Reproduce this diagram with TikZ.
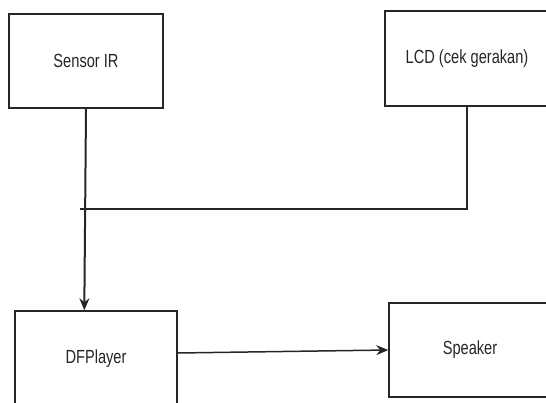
\documentclass[tikz,border=0pt]{standalone}
\usepackage{fontspec}
\setmainfont[FakeStretch=0.77]{Liberation Sans}
\usetikzlibrary{arrows.meta}
\begin{document}
\begin{tikzpicture}[x=1pt,y=-1pt,
  blk/.style={draw=black!85,line width=1.4pt,fill=white,inner sep=0pt,font=\fontsize{19}{22}\selectfont,text=black!85},
  conn/.style={draw=black!85,line width=1.5pt},
  arr/.style={conn,-{Stealth[length=12pt,width=10pt]}}]
\useasboundingbox (0,0) rectangle (546,403);
\node[blk,minimum width=154pt,minimum height=94pt] (sensor) at (86,61) {Sensor IR};
\node[blk,minimum width=164pt,minimum height=95pt] (lcd) at (467,58.5) {LCD (cek gerakan)};
\node[blk,minimum width=162pt,minimum height=96pt] (df) at (96,359) {DFPlayer};
\node[blk,minimum width=162pt,minimum height=94pt] (spk) at (470,350) {Speaker};
\coordinate (j) at (80,209);
\draw[arr,line width=2pt] (sensor.south) -- ([xshift=70pt]df.north west);
\draw[conn] (lcd.south) |- (j);
\draw[arr] ([yshift=6pt]df.east) -- (spk.west);
\end{tikzpicture}
\end{document}
